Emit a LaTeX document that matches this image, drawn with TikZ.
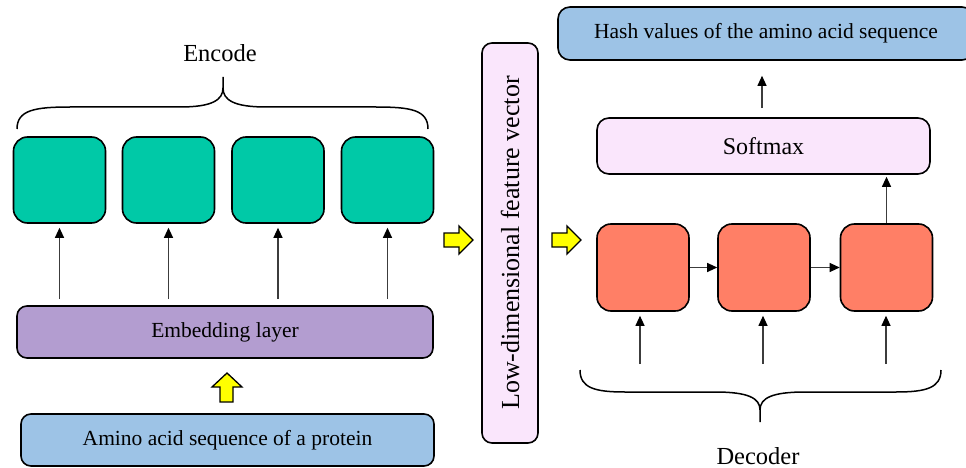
\documentclass[tikz,border=0pt]{standalone}
\usepackage{fontspec}
\setmainfont{Liberation Serif}
\usetikzlibrary{arrows.meta,calc}

\definecolor{tealbox}{RGB}{0,201,167}
\definecolor{salmonbox}{RGB}{255,127,102}
\definecolor{purplebox}{RGB}{179,157,208}
\definecolor{bluebox}{RGB}{157,195,230}
\definecolor{pinkbox}{RGB}{250,230,252}
\definecolor{blockyellow}{RGB}{255,255,0}
\definecolor{linkgray}{RGB}{60,60,60}

\tikzset{
  cell/.style={draw=black, line width=1.6pt, rounded corners=14pt,
    minimum width=92pt, minimum height=86pt, inner sep=0pt},
  bar/.style={draw=black, line width=1.6pt, rounded corners=10pt,
    inner sep=0pt, font=\fontsize{21.5}{24}\selectfont},
  link/.style={draw=linkgray, line width=1.1pt,
    -{Triangle[length=10pt,width=9pt,color=black]}},
  blockarrow/.style={draw=black, line width=1.3pt, fill=blockyellow, line join=miter},
  bracepath/.style={draw=black, line width=1.5pt},
  caption/.style={font=\fontsize{24.5}{27}\selectfont, inner sep=0pt}
}

\begin{document}
\begin{tikzpicture}[x=1pt, y=-1pt]
  \clip (0,0) rectangle (966,468);
  \useasboundingbox (0,0) rectangle (966,468);

  % ---------- encoder side ----------
  \node[caption] (enctext) at (220,53) {Encode};
  \draw[bracepath] (17,129) .. controls (17,110) and (35,107) .. (70,107)
    -- (180,107) .. controls (212,107) and (223,100) .. (223,88) -- (223,77)
    -- (223,88) .. controls (223,100) and (234,107) .. (266,107)
    -- (376,107) .. controls (411,107) and (428,110) .. (428,129);

  \foreach \i/\x in {1/59.5, 2/168.5, 3/278, 4/387.5}
    \node[cell, fill=tealbox] (enc\i) at (\x,180) {};

  \node[bar, fill=purplebox, minimum width=416pt, minimum height=52pt]
    (emb) at (225,332) {Embedding layer};
  \node[bar, fill=bluebox, minimum width=413pt, minimum height=52pt]
    (amino) at (227.5,440) {Amino acid sequence of a protein};

  \foreach \i in {1,...,4}
    \draw[link, shorten <=6pt, shorten >=4pt] (enc\i.south |- emb.north) -- (enc\i.south);

  % yellow block arrow: protein sequence -> embedding
  \draw[blockarrow] (220,402) -- (220,387) -- (212,387) -- (227,373)
    -- (242,387) -- (233,387) -- (233,402) -- cycle;

  % ---------- feature vector ----------
  \node[bar, fill=pinkbox, minimum width=400pt, minimum height=56pt, rotate=90,
    font=\fontsize{26}{28}\selectfont] (lowdim) at (510,243) {Low-dimensional feature vector};

  \draw[blockarrow] (444,233) -- (459,233) -- (459,226) -- (473,240)
    -- (459,254) -- (459,247) -- (444,247) -- cycle;
  \draw[blockarrow] (552,233) -- (567,233) -- (567,226) -- (581,240)
    -- (567,254) -- (567,247) -- (552,247) -- cycle;

  % ---------- decoder side ----------
  \foreach \i/\x in {1/643, 2/764, 3/886.5}
    \node[cell, fill=salmonbox, minimum height=87pt] (dec\i) at (\x,267.5) {};

  \node[bar, fill=pinkbox, minimum width=333pt, minimum height=56pt, rounded corners=12pt,
    font=\fontsize{24}{27}\selectfont] (softmax) at (763.5,146) {Softmax};
  \node[bar, fill=bluebox, minimum width=416pt, minimum height=53pt, rounded corners=12pt]
    (hash) at (766,33.5) {Hash values of the amino acid sequence};

  \draw[link] (dec1.east) -- (dec2.west);
  \draw[link] (dec2.east) -- (dec3.west);
  \draw[link, shorten >=2pt] (dec3.north) -- (softmax.south -| dec3.north);
  \draw[link, shorten <=9pt, shorten >=15pt] (softmax.north -| 762,0) -- (hash.south -| 762,0);

  \coordinate (in1) at (640,364);
  \coordinate (in2) at (763,364);
  \coordinate (in3) at (886,364);
  \foreach \i in {1,2,3}
    \draw[link, shorten >=4pt] (in\i) -- (in\i |- dec\i.south);

  \draw[bracepath] (580,370) .. controls (580,388) and (595,392) .. (625,392)
    -- (715,392) .. controls (748,392) and (760,398) .. (760,410) -- (760,422)
    -- (760,410) .. controls (760,398) and (772,392) .. (805,392)
    -- (896,392) .. controls (926,392) and (941,388) .. (941,370);
  \node[caption] (dectext) at (758,456) {Decoder};
\end{tikzpicture}
\end{document}
